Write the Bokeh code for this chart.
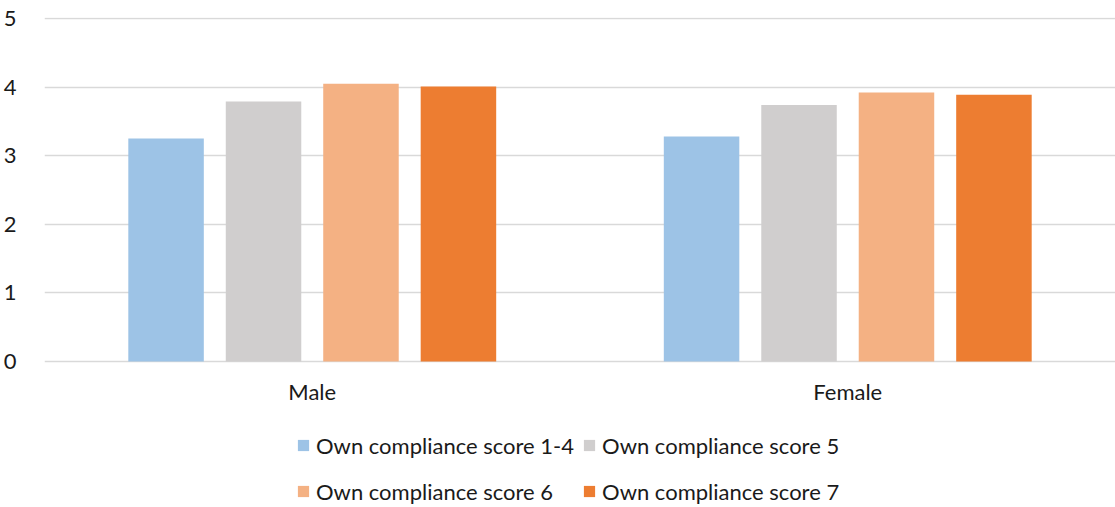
from bokeh.plotting import figure
from bokeh.models import FactorRange, Legend, LegendItem, ColumnDataSource
from bokeh.transform import dodge
from bokeh.core.properties import value
from bokeh.embed import file_html
from bokeh.resources import INLINE

groups = ["Male", "Female"]
series = ["Own compliance score 1-4", "Own compliance score 5",
          "Own compliance score 6", "Own compliance score 7"]
score_1_4 = [3.25, 3.28]
score_5 = [3.79, 3.74]
score_6 = [4.05, 3.92]
score_7 = [4.01, 3.89]
y_ticks = [0, 1, 2, 3, 4, 5]

colors = ["#9DC3E6", "#D0CECE", "#F4B183", "#ED7D31"]
FONT = "Lato"
FS = "22px"
TXT = "#1a1a1a"

src = ColumnDataSource(dict(g=groups, s1=score_1_4, s2=score_5, s3=score_6, s4=score_7))

p = figure(width=1115, height=507, x_range=FactorRange(*groups, range_padding=0),
           y_range=(-2.128, 5.015), output_backend="svg", toolbar_location=None,
           min_border_left=44, min_border_right=0, min_border_top=17,
           min_border_bottom=0)
p.outline_line_color = None

offsets = [-0.273, -0.091, 0.091, 0.273]
keys = ["s1", "s2", "s3", "s4"]
renderers = []
for k, off, c in zip(keys, offsets, colors):
    r = p.vbar(x=dodge("g", off, range=p.x_range), top=k, width=0.141, bottom=0,
               source=src, fill_color=c, line_color=None)
    renderers.append(r)

# category labels below the baseline
p.text(x=groups, y=[-0.44] * len(groups), text=groups, text_font=value(FONT),
       text_font_size=FS, text_color=TXT, text_align="center",
       text_baseline="middle")

p.xgrid.grid_line_color = None
p.ygrid.grid_line_color = "#D9D9D9"
p.ygrid.grid_line_width = 1.5
p.yaxis.ticker = y_ticks
p.yaxis.axis_line_color = None
p.yaxis.major_tick_line_color = None
p.yaxis.minor_tick_line_color = None
p.yaxis.major_label_standoff = 22
p.yaxis.major_label_text_font = FONT
p.yaxis.major_label_text_font_size = FS
p.yaxis.major_label_text_color = TXT
p.xaxis.visible = False

legend = Legend(items=[LegendItem(label=s, renderers=[r]) for s, r in zip(series, renderers)],
                ncols=2, orientation="horizontal", location=(252, -3),
                spacing=8, padding=0, margin=0, label_height=38, glyph_height=14,
                glyph_width=14, label_standoff=6, border_line_color=None,
                background_fill_alpha=0, label_text_font=FONT,
                label_text_font_size=FS, label_text_color=TXT)
p.add_layout(legend, "center")

open("out.html", "w").write(file_html(p, INLINE))
